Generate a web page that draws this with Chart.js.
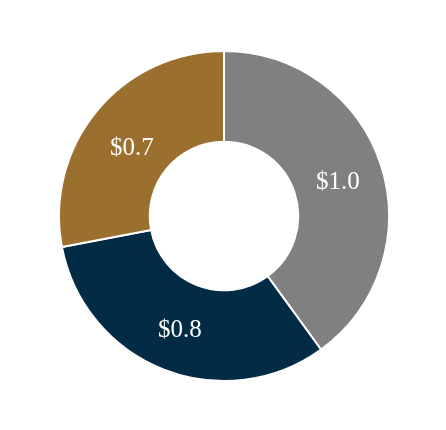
<!DOCTYPE html>
<html>
<head>
<meta charset="UTF-8">
<style>
  html, body { margin: 0; padding: 0; background: #ffffff; }
  #wrap { width: 446px; height: 430px; }
</style>
<script src="https://cdn.jsdelivr.net/npm/chart.js"></script>
</head>
<body>
<div id="wrap"><canvas id="chart" width="446" height="430"></canvas></div>
<script>
const categories = ['A', 'B', 'C'];
const values = [1.0, 0.8, 0.7];
const valueLabels = ['$1.0', '$0.8', '$0.7'];
const colors = ['#808080', '#022b45', '#9b702e'];

// draw the dollar labels inside each slice
const sliceLabels = {
  id: 'sliceLabels',
  afterDatasetsDraw(chart) {
    const ctx = chart.ctx;
    const meta = chart.getDatasetMeta(0);
    ctx.save();
    ctx.fillStyle = '#ffffff';
    ctx.font = '25px "Liberation Serif", "Times New Roman", serif';
    ctx.textAlign = 'center';
    ctx.textBaseline = 'middle';
    meta.data.forEach((arc, i) => {
      const p = arc.tooltipPosition();
      // the brown label sits a bit lower in the original
      const dy = i === 2 ? 9 : 3;
      ctx.fillText(valueLabels[i], p.x, p.y + dy);
    });
    ctx.restore();
  }
};

new Chart(document.getElementById('chart'), {
  type: 'doughnut',
  data: {
    labels: categories,
    datasets: [{
      data: values,
      backgroundColor: colors,
      borderColor: '#ffffff',
      borderWidth: 2
    }]
  },
  options: {
    responsive: false,
    animation: false,
    cutout: '45%',
    layout: { padding: { top: 50, bottom: 48, left: 2, right: 0 } },
    plugins: {
      legend: { display: false },
      tooltip: { enabled: false }
    }
  },
  plugins: [sliceLabels]
});
</script>
</body>
</html>
